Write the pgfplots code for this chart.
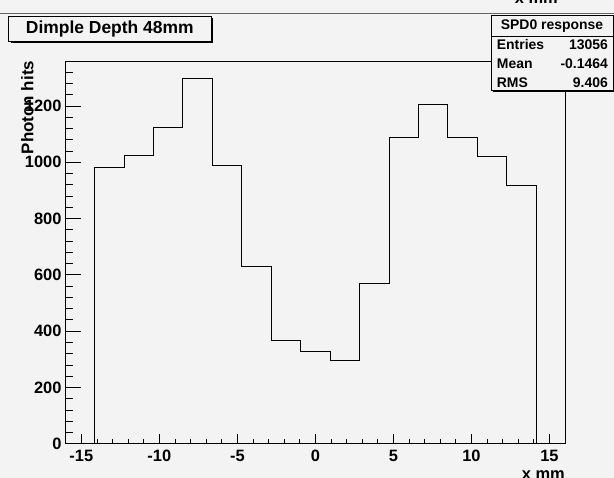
\documentclass[border=0pt]{standalone}
\usepackage{pgfplots}
\pgfplotsset{compat=1.18}
\usepackage{fontspec}
\setmainfont{Liberation Sans}
\definecolor{bgc}{HTML}{F3F3F3}
\newcommand{\lab}{\fontsize{16.5}{18}\selectfont\bfseries}
\newcommand{\stat}{\fontsize{14}{16}\selectfont\bfseries}
\begin{document}
\begin{tikzpicture}[x=1bp,y=1bp]
\useasboundingbox (0,0) rectangle (614,478);
\clip (0,0) rectangle (614,478);
\fill[bgc] (0,0) rectangle (614,478);
% top partial pad
\draw[gray!80!black, line width=1.2bp] (0,464.5) -- (614,464.5);
\node[anchor=base east, inner sep=0pt, font=\lab] at (558,474) {x mm};
% histogram axis (x ticks)
\begin{axis}[
  at={(65.7bp,34.3bp)}, anchor=south west,
  scale only axis, width=499.3bp, height=382.7bp,
  xmin=-16, xmax=16, ymin=0, ymax=1360,
  axis line style={black, line width=0.9bp},
  xtick={-15,-10,-5,0,5,10,15},
  xticklabels={-15,-10,-5,0,5,10,15},
  minor xtick={-15,-14,...,15},
  ytick=\empty,
  xtick pos=bottom, tick align=inside,
  major tick length=10bp, minor tick length=5bp,
  tick style={black, line width=0.8bp},
  xticklabel style={font=\lab, anchor=north, inner sep=0pt, yshift=-6.3bp},
  clip=false,
]
\addplot[const plot mark left, black, line width=0.9bp, mark=none] coordinates {
(-14.15,0) (-14.15,982) (-12.263,1025) (-10.377,1125) (-8.49,1297)
(-6.603,990) (-4.717,629) (-2.83,368) (-0.943,327) (0.943,297)
(2.83,568) (4.717,1090) (6.603,1207) (8.49,1090) (10.377,1020)
(12.263,918) (14.15,0)
};
\end{axis}
% y ticks axis
\begin{axis}[
  at={(65.7bp,34.3bp)}, anchor=south west,
  scale only axis, width=499.3bp, height=382.7bp,
  xmin=-16, xmax=16, ymin=0, ymax=1360,
  axis line style={draw=none},
  xtick=\empty,
  ytick={0,200,400,600,800,1000,1200},
  yticklabels={0,200,400,600,800,1000,1200},
  minor ytick={0,40,...,1320},
  ytick pos=left, tick align=inside,
  major tick length=15bp, minor tick length=7.5bp,
  tick style={black, line width=0.8bp},
  yticklabel style={font=\lab, anchor=east, inner sep=0pt, xshift=-4bp},
]
\addplot[draw=none] coordinates {(0,0)};
\end{axis}
% y label
\node[rotate=90, anchor=base east, inner sep=0pt, font=\fontsize{17}{18}\selectfont\bfseries] at (33.3,417.3) {Photon hits};
% x label (clipped)
\node[anchor=base east, inner sep=0pt, font=\lab] at (565,-1.3) {x mm};
% title box
\fill[black] (10.6,435) rectangle (213,459.5);
\filldraw[fill=bgc, draw=black, line width=0.9bp] (8.6,437) rectangle (211,461.5);
\node[font=\fontsize{17.5}{19}\selectfont\bfseries, inner sep=0pt] at (109.8,449.2) {Dimple Depth 48mm};
% stats box
\fill[black] (493,385.5) rectangle (616,461);
\filldraw[fill=bgc, draw=black, line width=0.9bp] (491,387.3) rectangle (613.5,463);
\draw[black, line width=0.9bp] (491,442) -- (613.5,442);
\node[anchor=base, inner sep=0pt, font=\stat] at (552,448) {SPD0 response};
\node[anchor=base west, inner sep=0pt, font=\stat] at (496.7,428) {Entries};
\node[anchor=base east, inner sep=0pt, font=\stat] at (608,428) {13056};
\node[anchor=base west, inner sep=0pt, font=\stat] at (496.7,409.7) {Mean};
\node[anchor=base east, inner sep=0pt, font=\stat] at (608,409.7) {-0.1464};
\node[anchor=base west, inner sep=0pt, font=\stat] at (496.7,390.5) {RMS};
\node[anchor=base east, inner sep=0pt, font=\stat] at (608,390.5) {9.406};
\end{tikzpicture}
\end{document}
